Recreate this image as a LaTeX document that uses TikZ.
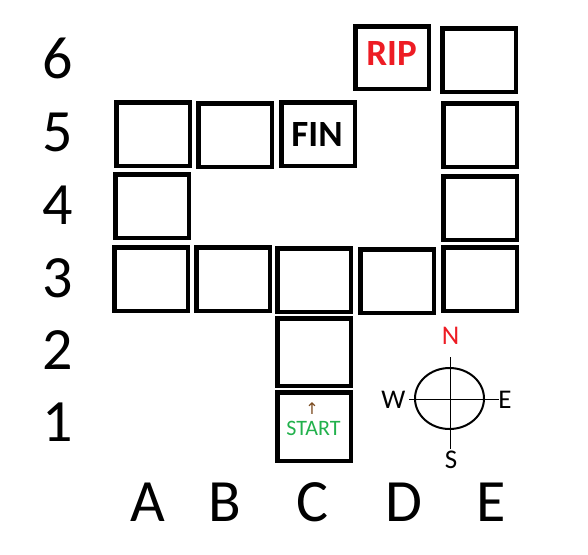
\documentclass[tikz,border=0pt]{standalone}
\usepackage{fontspec}
\setmainfont{Carlito}
\newfontfamily\symfont{DejaVu Sans}
\usetikzlibrary{shapes.geometric}
\definecolor{paintred}{HTML}{ED1C24}
\definecolor{paintgreen}{HTML}{22B14C}
\definecolor{arrowbrown}{HTML}{7A4A1E}
\begin{document}
\begin{tikzpicture}[x=1pt,y=-1pt,
  cell/.style={draw=black, line width=4.5pt, minimum width=73.5pt, minimum height=63.5pt, inner sep=0pt},
  axislabel/.style={font=\fontsize{60}{72}\selectfont, inner sep=0pt},
  celltext/.style={font=\bfseries\fontsize{37}{44}\selectfont, inner sep=0pt},
  dirlabel/.style={font=\fontsize{27}{32}\selectfont, inner sep=0pt},
  compassline/.style={draw=black, line width=1pt}]
\useasboundingbox (0,0) rectangle (588,554);
% cells
\node[cell, minimum height=62.5pt] (d6) at (392,57.5) {};
\node[cell] (e6) at (479,60) {};
\node[cell] (a5) at (153,134) {};
\node[cell] (b5) at (235,135) {};
\node[cell] (c5) at (318,134) {};
\node[cell] (e5) at (480,135) {};
\node[cell] (a4) at (152,206) {};
\node[cell] (e4) at (480,208) {};
\node[cell] (a3) at (151,279) {};
\node[cell] (b3) at (233,279) {};
\node[cell] (c3) at (314,280) {};
\node[cell] (d3) at (397,281) {};
\node[cell] (e3) at (480,279) {};
\node[cell, minimum height=67.5pt] (c2) at (314,352) {};
\node[cell, minimum height=68.5pt] (c1) at (314,426.5) {};
% cell texts
\node[celltext, text=paintred] (rip) at (391.5,54) {RIP};
\node[celltext, text=black] (fin) at (317,135) {FIN};
\node[inner sep=0pt, font=\fontsize{22}{26}\selectfont, text=paintgreen] (start) at (313.5,428) {START};
\node[inner sep=0pt, font=\symfont\fontsize{16}{18}\selectfont, text=arrowbrown] (up) at (312,409) {↑};
% row labels
\node[axislabel] (r6) at (58,58.5) {6};
\node[axislabel] (r5) at (58,132) {5};
\node[axislabel] (r4) at (58,205) {4};
\node[axislabel] (r3) at (58,278) {3};
\node[axislabel] (r2) at (58,350) {2};
\node[axislabel] (r1) at (58,422) {1};
% column labels
\node[axislabel] (ca) at (147.5,502) {A};
\node[axislabel] (cb) at (224.5,502) {B};
\node[axislabel] (cc) at (312.5,502) {C};
\node[axislabel] (cd) at (403.5,502) {D};
\node[axislabel] (ce) at (491,502) {E};
% compass
\coordinate (cmp) at (449.5,398.5);
\draw[line width=2pt] (cmp) ellipse [x radius=34.5pt, y radius=30.5pt];
\coordinate (ntop) at (450,357);
\coordinate (sbot) at (450,449);
\coordinate (wend) at (409,399);
\coordinate (eend) at (499,399);
\draw[compassline] (ntop) -- (sbot);
\draw[compassline] (wend) -- (eend);
\node[dirlabel, text=paintred] (nl) at (450.5,336) {N};
\node[dirlabel] (sl) at (451,460) {S};
\node[dirlabel] (wl) at (393.5,400) {W};
\node[dirlabel] (el) at (505,400) {E};
\end{tikzpicture}
\end{document}
